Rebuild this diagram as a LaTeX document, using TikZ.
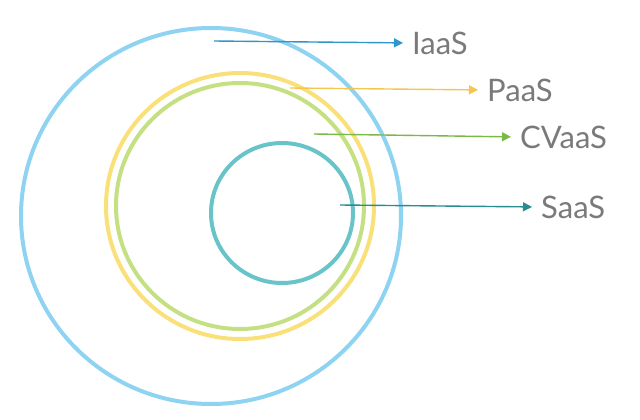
\documentclass[tikz,border=0pt]{standalone}
\usepackage{fontspec}
\setmainfont{Lato}
\usetikzlibrary{arrows.meta}

\definecolor{iaasring}{RGB}{143,211,242}
\definecolor{paasring}{RGB}{250,224,120}
\definecolor{cvaasring}{RGB}{196,224,130}
\definecolor{saasring}{RGB}{104,196,200}
\definecolor{iaasarrow}{RGB}{45,150,205}
\definecolor{paasarrow}{RGB}{246,196,80}
\definecolor{cvaasarrow}{RGB}{122,184,72}
\definecolor{saasarrow}{RGB}{40,140,145}
\definecolor{labelgray}{RGB}{122,122,122}

\tikzset{
    ring/.style={line width=4pt},
    pointer/.style={line width=1.4pt, -{Triangle[length=9pt,width=9pt]}, shorten >=9pt},
    layer/.style={anchor=west, inner sep=0pt, text=labelgray, font=\fontsize{31}{36}\selectfont}
}

\begin{document}
\begin{tikzpicture}[x=1pt, y=-1pt]
    \useasboundingbox (0,0) rectangle (640,420);

    % Rings
    \draw[ring, iaasring] (211,216) ellipse (190 and 188);
    \draw[ring, paasring] (240,206) ellipse (134 and 133);
    \draw[ring, cvaasring] (240,206) ellipse (124 and 123);
    \draw[ring, saasring] (282,213) ellipse (71 and 70);

    % Labels
    \node[layer] (iaas) at (412,43) {IaaS};
    \node[layer] (paas) at (487,90) {PaaS};
    \node[layer] (cvaas) at (520,137) {CVaaS};
    \node[layer] (saas) at (541,207) {SaaS};

    % Arrow start points
    \coordinate (iaasfrom) at (214,41);
    \coordinate (paasfrom) at (290,88);
    \coordinate (cvaasfrom) at (314,134);
    \coordinate (saasfrom) at (340,205);

    % Arrows
    \draw[pointer, iaasarrow] (iaasfrom) -- (iaas.west);
    \draw[pointer, paasarrow] (paasfrom) -- (paas.west);
    \draw[pointer, cvaasarrow] (cvaasfrom) -- (cvaas.west);
    \draw[pointer, saasarrow] (saasfrom) -- (saas.west);
\end{tikzpicture}
\end{document}
